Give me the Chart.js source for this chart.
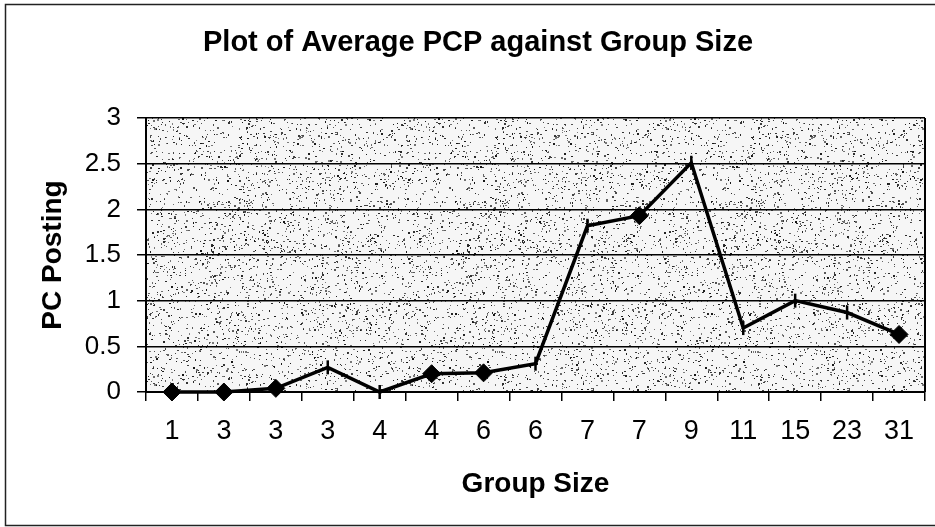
<!DOCTYPE html>
<html><head><meta charset="utf-8">
<script src="https://cdn.jsdelivr.net/npm/chart.js@4/dist/chart.umd.min.js"></script>
<style>html,body{margin:0;padding:0;background:#fff;}#wrap{width:935px;height:527px;position:relative;}</style>
</head><body><div id="wrap"><canvas id="c" width="935" height="527"></canvas></div>
<script>
// ---- data ----
const groupSizes = ['1','3','3','3','4','4','6','6','7','7','9','11','15','23','31'];
const pcPosting  = [0, 0, 0.04, 0.27, 0, 0.20, 0.21, 0.31, 1.82, 1.93, 2.51, 0.70, 1.00, 0.87, 0.63];
const markerKinds = ['diamond','diamond','diamond','dash','dash','diamond','diamond','dash','dash','diamond','dash','dash','dash','dash','diamond'];
const yTicks = [0, 0.5, 1, 1.5, 2, 2.5, 3];

const FONT = "'Liberation Sans', Arial, sans-serif";
Chart.defaults.font.family = FONT;
Chart.defaults.color = '#000';

// stipple texture for plot background (deterministic)
function makePattern(ctx) {
  const pc = document.createElement('canvas');
  pc.width = 256; pc.height = 256;
  const p = pc.getContext('2d');
  p.fillStyle = '#f6f6f6';
  p.fillRect(0, 0, 256, 256);
  let s = 12345;
  const rnd = () => { s = (s * 1103515245 + 12345) & 0x7fffffff; return s / 0x7fffffff; };
  for (let i = 0; i < 3000; i++) {
    const x = Math.floor(rnd() * 256), y = Math.floor(rnd() * 256);
    const g = Math.floor(20 + rnd() * 110);
    p.fillStyle = `rgb(${g},${g},${g})`;
    const w = rnd() < 0.35 ? 2 : 1, h = rnd() < 0.25 ? 2 : 1;
    p.fillRect(x, y, w, h);
  }
  return ctx.createPattern(pc, 'repeat');
}

const decor = {
  id: 'decor',
  beforeDraw(chart) {
    const {ctx, chartArea: a} = chart;
    ctx.save();
    ctx.fillStyle = makePattern(ctx);
    ctx.fillRect(a.left, a.top, a.right - a.left, a.bottom - a.top);
    ctx.restore();
  },
  afterDraw(chart) {
    const {ctx, chartArea: a} = chart;
    ctx.save();
    ctx.strokeStyle = '#000';
    ctx.lineWidth = 2;
    ctx.beginPath();
    ctx.moveTo(a.right, a.top);
    ctx.lineTo(a.right, a.bottom);
    ctx.stroke();
    ctx.strokeStyle = '#222';
    ctx.lineWidth = 1.5;
    ctx.strokeRect(5.5, 4.5, 940, 521);
    ctx.restore();
  }
};

new Chart(document.getElementById('c'), {
  type: 'line',
  data: {
    labels: groupSizes,
    datasets: [{
      data: pcPosting,
      clip: false,
      borderColor: '#000',
      backgroundColor: '#000',
      borderWidth: 3.5,
      tension: 0,
      pointStyle: markerKinds.map(k => k === 'diamond' ? 'rectRot' : 'line'),
      pointRotation: markerKinds.map(k => k === 'diamond' ? 0 : 90),
      pointRadius: markerKinds.map(k => k === 'diamond' ? 9 : 7),
      pointBorderWidth: markerKinds.map(k => k === 'diamond' ? 1 : 2.5),
      pointBorderColor: '#000',
      pointBackgroundColor: '#000'
    }]
  },
  options: {
    responsive: false,
    animation: false,
    devicePixelRatio: 1,
    layout: { padding: { left: 30, right: 9, top: 0, bottom: 0 } },
    plugins: {
      legend: { display: false },
      tooltip: { enabled: false },
      title: {
        display: true,
        text: 'Plot of Average PCP against Group Size',
        font: { size: 29, weight: 'bold', family: FONT },
        color: '#000',
        padding: { top: 26, bottom: 57.2 }
      }
    },
    scales: {
      x: {
        offset: true,
        grid: { offset: true, drawOnChartArea: false, drawTicks: true, tickLength: 9, color: '#000', lineWidth: 1.5 },
        border: { color: '#000', width: 2 },
        ticks: { font: { size: 27, family: FONT }, color: '#000', padding: 14, maxRotation: 0, autoSkip: false },
        title: { display: true, text: 'Group Size', font: { size: 28, weight: 'bold', family: FONT }, color: '#000', padding: { top: 0, bottom: 26 } },
        afterFit(s) { s.height = 135; }
      },
      y: {
        min: 0, max: 3,
        afterBuildTicks(s) { s.ticks = yTicks.map(v => ({ value: v })); },
        grid: { color: '#000', lineWidth: 1.5, drawTicks: true, tickLength: 9 },
        border: { color: '#000', width: 2 },
        ticks: { font: { size: 26, family: FONT }, color: '#000', padding: 16, callback: v => String(v) },
        title: { display: true, text: 'PC Posting', font: { size: 28, weight: 'bold', family: FONT }, color: '#000', padding: { top: 6, bottom: 0 } },
        afterFit(s) { s.width = 116; }
      }
    }
  },
  plugins: [decor]
});
</script>
</body></html>
